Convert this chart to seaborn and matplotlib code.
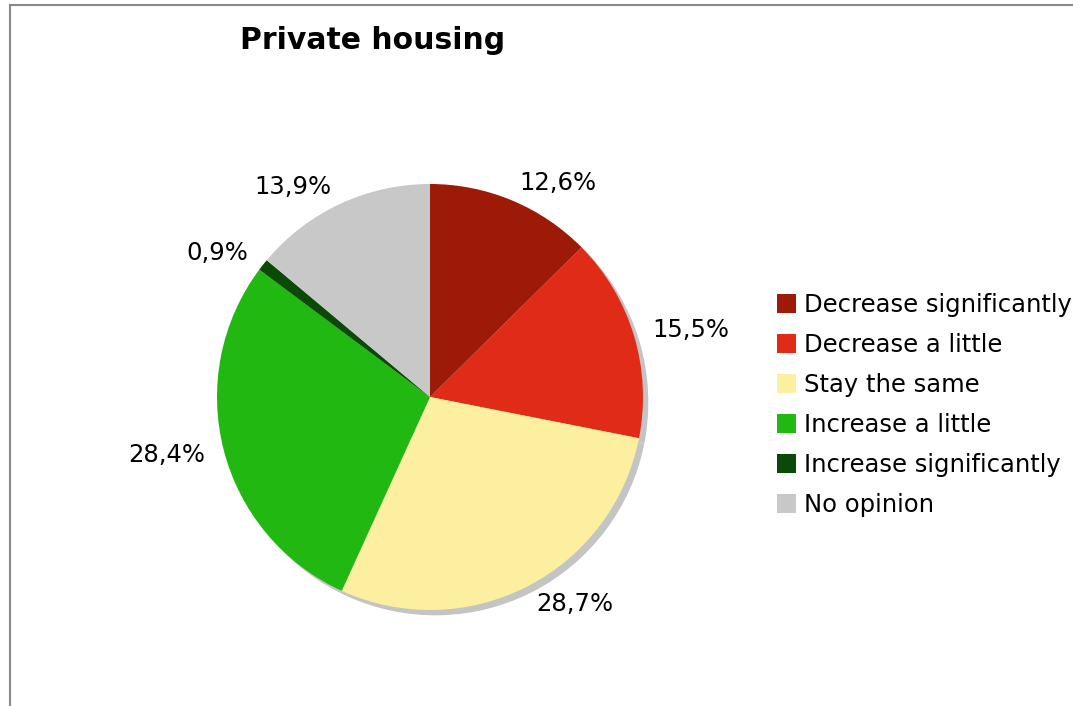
import matplotlib
matplotlib.use('Agg')
import matplotlib.pyplot as plt
from matplotlib.patches import Rectangle
import seaborn as sns

# Survey answers for private housing
categories = ['Decrease significantly', 'Decrease a little', 'Stay the same',
              'Increase a little', 'Increase significantly', 'No opinion']
shares = [12.6, 15.5, 28.7, 28.4, 0.9, 13.9]
pct_labels = ['12,6%', '15,5%', '28,7%', '28,4%', '0,9%', '13,9%']
colors = ['#9c1a06', '#e02c16', '#fcf0a0', '#22b812', '#0b4a06', '#c8c8c8']

sns.set_theme(style='white')
plt.rcParams['font.family'] = ['DejaVu Sans']
plt.rcParams['text.color'] = 'black'

fig = plt.figure(figsize=(10.73, 7.06), dpi=100)
fig.patch.set_facecolor('white')

# outer frame (only left and top visible in the original)
fig.patches.append(Rectangle((10 / 1073, -0.1), 1.2, 1.1 - 5 / 706,
                             transform=fig.transFigure, fill=False,
                             edgecolor='#8a8a8a', linewidth=1.5))

cx, cy, r = 430, 397, 213
ax = fig.add_axes([(cx - r) / 1073, (706 - cy - r) / 706, 2 * r / 1073, 2 * r / 706])

# shadow pie
ax.pie(shares, colors=['#c4c4c4'] * len(shares), startangle=90, counterclock=False,
       center=(0.025, -0.025), radius=1.0, wedgeprops=dict(linewidth=0))

wedges, texts = ax.pie(shares, colors=colors, startangle=90, counterclock=False,
                       labels=pct_labels, labeldistance=1.09,
                       textprops=dict(fontsize=17.5, color='black'),
                       wedgeprops=dict(linewidth=0))
ax.set_xlim(-1, 1)
ax.set_ylim(-1, 1)
ax.set_aspect('equal')
ax.axis('off')

fig.text(240 / 1073, 1 - 49 / 706, 'Private housing', fontsize=21.5,
         fontweight='bold', ha='left', va='baseline', color='black')

leg = fig.legend(wedges, categories, loc='center left',
                 bbox_to_anchor=(777 / 1073, 1 - 405 / 706), frameon=False,
                 fontsize=17.5, handlelength=0.8, handleheight=0.8,
                 handletextpad=0.3, labelspacing=0.66, borderaxespad=0, borderpad=0)
for t in leg.get_texts():
    t.set_color('black')

fig.savefig('out.png', dpi=100)
